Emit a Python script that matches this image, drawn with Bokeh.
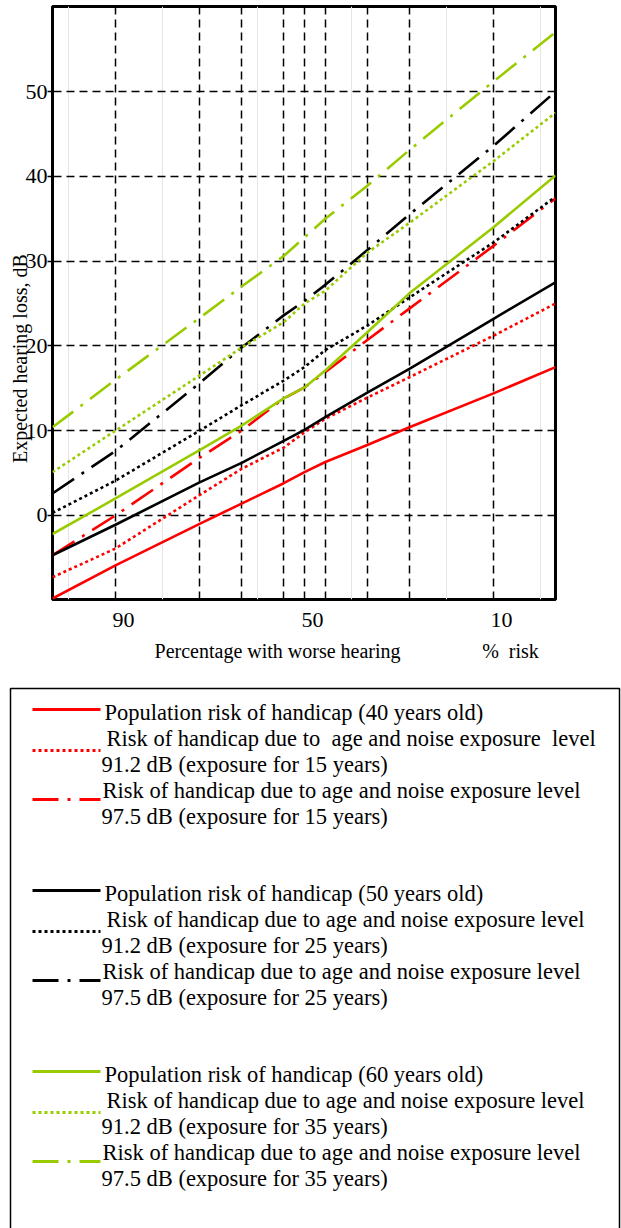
import math
from bokeh.plotting import figure
from bokeh.models import Range1d, FixedTicker, Grid, LinearAxis, ColumnDataSource
from bokeh.core.properties import value
from bokeh.embed import file_html
from bokeh.resources import INLINE

# ---------------- data ----------------
percent = [103.33, 90, 72.2, 63.3, 54.4, 50, 45.6, 36.7, 27.8, 10, -3.12]

red_pop40 = [-9.8, -5.9, -1.0, 1.4, 3.8, 5.1, 6.3, 8.3, 10.4, 14.4, 17.5]
red_91_15 = [-7.3, -3.9, 2.4, 5.5, 8.0, 9.8, 11.4, 13.9, 16.3, 21.2, 25.0]
red_975_15 = [-4.7, 0.0, 6.8, 10.0, 13.8, 15.1, 16.9, 20.7, 24.4, 31.8, 37.4]
black_pop50 = [-4.7, -1.1, 3.9, 6.2, 8.8, 10.1, 11.6, 14.5, 17.3, 23.2, 27.5]
black_91_25 = [0.3, 4.1, 10.0, 13.0, 15.9, 17.5, 19.5, 22.4, 25.7, 32.2, 37.6]
black_975_25 = [2.6, 7.6, 15.6, 19.8, 23.6, 25.3, 27.2, 31.3, 35.5, 43.6, 50.0]
green_pop60 = [-2.2, 2.0, 7.7, 10.6, 13.8, 15.1, 17.1, 21.6, 26.2, 34.0, 40.1]
green_91_35 = [5.1, 10.0, 16.5, 19.8, 22.8, 25.0, 26.5, 31.0, 34.5, 41.8, 47.5]
green_975_35 = [10.4, 16.0, 23.3, 27.0, 30.6, 32.8, 35.0, 38.9, 43.1, 51.2, 57.0]

x_tick_values = [90, 50, 10]
x_tick_labels = ["90", "50", "10"]
x_grid_values = [90, 72.2, 63.3, 54.4, 50, 45.6, 36.7, 27.8, 10]
y_tick_values = [0, 10, 20, 30, 40, 50]

y_title = "Expected hearing loss, dB"
x_title = "Percentage with worse hearing"
x_unit = "%  risk"

legend_first = [
    "Population risk of handicap (40 years old)",
    "Risk of handicap due to  age and noise exposure  level",
    "Risk of handicap due to age and noise exposure level",
    "Population risk of handicap (50 years old)",
    "Risk of handicap due to age and noise exposure level",
    "Risk of handicap due to age and noise exposure level",
    "Population risk of handicap (60 years old)",
    "Risk of handicap due to age and noise exposure level",
    "Risk of handicap due to age and noise exposure level",
]
legend_second = [
    "",
    "91.2 dB (exposure for 15 years)",
    "97.5 dB (exposure for 15 years)",
    "",
    "91.2 dB (exposure for 25 years)",
    "97.5 dB (exposure for 25 years)",
    "",
    "91.2 dB (exposure for 35 years)",
    "97.5 dB (exposure for 35 years)",
]

# ---------------- styles ----------------
RED = "#ff0000"
BLACK = "#000000"
GREEN = "#99cc00"
SOLID = "solid"
DOT = "3 3"
DASHDOT = "26 9 3 9"
FONT = "Liberation Serif"


def keep_spaces(s):
    # keep doubled spaces visible in the SVG text
    return s.replace("  ", " \u00a0")


series = [
    ("red_pop40", red_pop40, RED, SOLID),
    ("red_91_15", red_91_15, RED, DOT),
    ("red_975_15", red_975_15, RED, DASHDOT),
    ("black_pop50", black_pop50, BLACK, SOLID),
    ("black_91_25", black_91_25, BLACK, DOT),
    ("black_975_25", black_975_25, BLACK, DASHDOT),
    ("green_pop60", green_pop60, GREEN, SOLID),
    ("green_91_35", green_91_35, GREEN, DOT),
    ("green_975_35", green_975_35, GREEN, DASHDOT),
]

# ---------------- chart ----------------
X0, X1 = 103.33, -3.12
Y0, Y1 = -9.92, 60.04
FW, FH = 503, 593
ppu_x = FW / (X0 - X1)

p = figure(frame_width=FW, frame_height=FH,
           x_range=Range1d(X0, X1), y_range=Range1d(Y0, Y1),
           x_axis_location=None, toolbar_location=None, output_backend="svg",
           min_border_left=52, min_border_right=66, min_border_top=6, min_border_bottom=81)
p.outline_line_color = "black"
p.outline_line_width = 3
p.outline_line_alpha = 1.0
p.background_fill_color = "white"
p.border_fill_color = "white"

# y axis (ticks and numbers)
p.yaxis.ticker = FixedTicker(ticks=y_tick_values)
p.yaxis.axis_line_color = None
p.yaxis.major_tick_out = 5
p.yaxis.major_tick_in = 0
p.yaxis.minor_tick_out = 0
p.yaxis.minor_tick_in = 0
p.yaxis.major_tick_line_width = 1.5
p.yaxis.major_tick_line_color = "black"
p.yaxis.major_label_standoff = 0
p.yaxis.major_label_text_font = FONT
p.yaxis.major_label_text_font_size = "22px"
p.yaxis.major_label_text_color = "black"

# y title as an outer left axis carrying one vertical label
ytitle_pos = 18.5
yaxis2 = LinearAxis(ticker=FixedTicker(ticks=[ytitle_pos]),
                    major_label_overrides={ytitle_pos: y_title},
                    major_label_orientation="vertical",
                    axis_line_color=None, major_tick_out=0, major_tick_in=0,
                    minor_tick_out=0, minor_tick_in=0, major_label_standoff=-9,
                    major_label_text_font=FONT, major_label_text_font_size="20px",
                    major_label_text_color="black")
p.add_layout(yaxis2, "left")

# x axis: numbers set slightly right of their grid lines, as in the source
label_shift = 8 / ppu_x
xaxis1_pos = [round(v - label_shift, 3) for v in x_tick_values]
xaxis1 = LinearAxis(ticker=FixedTicker(ticks=xaxis1_pos),
                    major_label_overrides={k: t for k, t in zip(xaxis1_pos, x_tick_labels)},
                    axis_line_color=None, major_tick_out=0, major_tick_in=0,
                    minor_tick_out=0, minor_tick_in=0, major_label_standoff=13,
                    major_label_text_font=FONT, major_label_text_font_size="22px",
                    major_label_text_color="black")
p.add_layout(xaxis1, "below")

xtitle_pos = [55.7, 6.4]
xaxis2 = LinearAxis(ticker=FixedTicker(ticks=xtitle_pos),
                    major_label_overrides={xtitle_pos[0]: x_title,
                                           xtitle_pos[1]: keep_spaces(x_unit)},
                    axis_line_color=None, major_tick_out=0, major_tick_in=0,
                    minor_tick_out=0, minor_tick_in=0, major_label_standoff=10,
                    major_label_text_font=FONT, major_label_text_font_size="20px",
                    major_label_text_color="black")
p.add_layout(xaxis2, "below")

# grids
p.ygrid.grid_line_color = "black"
p.ygrid.grid_line_dash = "8 5"
p.ygrid.grid_line_width = 1.5
p.ygrid.grid_line_alpha = 1.0
xgrid = Grid(dimension=0, ticker=FixedTicker(ticks=x_grid_values),
             grid_line_color="black", grid_line_dash="8 5", grid_line_width=1.5)
p.add_layout(xgrid)

src = ColumnDataSource(dict(percent=percent, **{n: v for n, v, _, _ in series}))
for name, vals, color, dash in series:
    p.line("percent", name, source=src, line_color=color, line_width=2.6, line_dash=dash)

# ---------------- legend panel ----------------
LW, LH = 621, 548
q = figure(frame_width=LW, frame_height=LH,
           x_range=Range1d(0, LW), y_range=Range1d(LH, 0),
           x_axis_location=None, y_axis_location=None,
           toolbar_location=None, output_backend="svg", min_border=0)
q.grid.visible = False
q.outline_line_color = None
q.background_fill_color = "white"
q.border_fill_color = "white"

q.quad(left=[10], right=[619], top=[8], bottom=[LH + 60],
       fill_color=None, line_color="black", line_width=1.5)

group_y = [29, 210, 391]
line_dy = [0, 41, 90]
first_dy = [3, 29, 81]
first_x = [104, 106, 102]
second_dy = [0, 55, 106.5]
second_x = 101

tx, ty, tt = [], [], []
for i, (name, vals, color, dash) in enumerate(series):
    g, k = divmod(i, 3)
    base = group_y[g]
    ly = base + line_dy[k]
    q.line(x=[32, 100], y=[ly, ly], line_color=color, line_width=3.2, line_dash=dash)
    tx.append(first_x[k]); ty.append(base + first_dy[k]); tt.append(keep_spaces(legend_first[i]))
    if legend_second[i]:
        tx.append(second_x); ty.append(base + second_dy[k]); tt.append(legend_second[i])

q.text(x=tx, y=ty, text=tt, text_font=value(FONT), text_font_size=value("22.5px"),
       text_align="left", text_baseline="middle", text_color="black")

open("out.html", "w").write(file_html([p, q], INLINE))
